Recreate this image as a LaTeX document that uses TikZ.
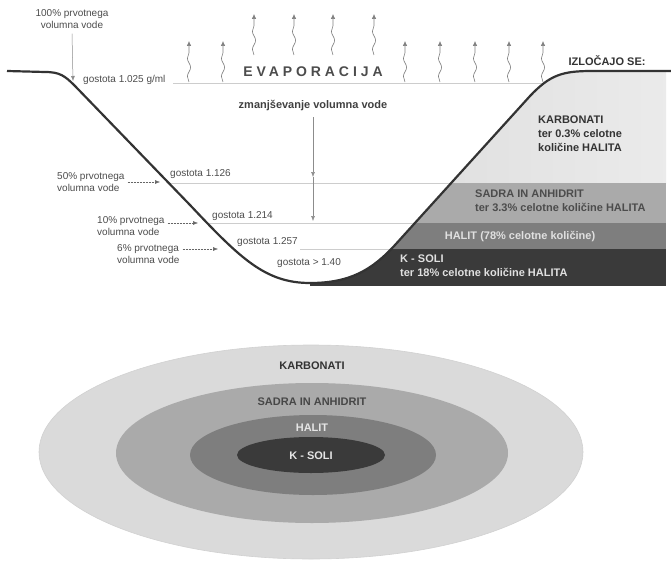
\documentclass[tikz,border=0pt]{standalone}
\usepackage{fontspec}
\setmainfont{Liberation Sans}
\usepackage{tikz}
\usetikzlibrary{arrows.meta, decorations.pathmorphing}

\newfontfamily\razmak[LetterSpace=28]{Liberation Sans}

\definecolor{karbonat}{HTML}{DADADA}
\definecolor{sadra}{HTML}{AAAAAA}
\definecolor{halit}{HTML}{7E7E7E}
\definecolor{ksol}{HTML}{3A3A3A}
\definecolor{vodna}{HTML}{CDCDCD}
\definecolor{dno}{HTML}{333333}

\begin{document}
\begin{tikzpicture}[x=1pt, y=-1pt,
    mala/.style={font=\fontsize{10}{12}\selectfont, text=black!70, inner sep=0pt, align=left},
    krepka/.style={font=\fontsize{11}{14}\selectfont\bfseries, inner sep=0pt, align=left},
    gladina/.style={draw=vodna, line width=0.8pt},
    vodilo/.style={densely dotted, draw=black!60, line width=0.5pt, -{Latex[length=5pt,width=4pt]}},
    puscica/.style={draw=black!45, line width=0.5pt, -{Latex[length=5pt,width=4pt]}},
    para/.style={draw=black!50, line width=0.6pt, decorate,
        decoration={snake, amplitude=1.6pt, segment length=18pt, post length=6pt},
        -{Latex[length=5pt,width=4.5pt]}}]
    % Define the layers
    \pgfdeclarelayer{0}
    \pgfdeclarelayer{1}
    \pgfsetlayers{0,main,1}

    \useasboundingbox ({0}, {0}) rectangle ({671}, {564});

    % Layer 0
    \begin{pgfonlayer}{0}
        % water levels
        \draw[gladina] ({173}, {83}) -- ({560}, {83});
        \draw[gladina] ({168}, {183}) -- ({600}, {183});
        \draw[gladina] ({208}, {223}) -- ({600}, {223});
        \draw[gladina] ({300}, {249}) -- ({600}, {249});

        % deposits on the right slope
        \begin{scope}
            \clip ({310}, {283}) .. controls ({350}, {283}) and ({372}, {270}) .. ({395}, {245})
                -- ({530}, {96}) .. controls ({550}, {75}) and ({562}, {71}) .. ({592}, {71})
                -- ({671}, {71}) -- ({671}, {286}) -- ({310}, {286}) -- cycle;
            \shade[left color=karbonat, right color=karbonat!55] ({300}, {60}) rectangle ({666}, {183});
            \fill[sadra] ({300}, {183}) rectangle ({666}, {223});
            \fill[halit] ({300}, {223}) rectangle ({666}, {249});
            \fill[ksol] ({300}, {249}) rectangle ({666}, {286});
        \end{scope}

        % plan view
        \fill[karbonat, draw=black!18, line width=0.6pt] ({311}, {452}) ellipse [x radius=272pt, y radius=107pt];
        \fill[sadra] ({312}, {453}) ellipse [x radius=196pt, y radius=70pt];
        \fill[halit] ({313}, {455}) ellipse [x radius=123pt, y radius=40pt];
        \fill[ksol] ({311}, {455}) ellipse [x radius=74pt, y radius=18pt];
    \end{pgfonlayer}

    % Layer 1
    \begin{pgfonlayer}{1}
        % basin floor
        \draw[dno, line width=2.2pt, line join=round]
            ({7}, {71}) -- ({45}, {72}) .. controls ({60}, {72}) and ({65}, {76}) .. ({75}, {86})
            -- ({190}, {205}) .. controls ({240}, {258}) and ({265}, {283}) .. ({310}, {283})
            .. controls ({350}, {283}) and ({372}, {270}) .. ({395}, {245})
            -- ({530}, {96}) .. controls ({550}, {75}) and ({562}, {71}) .. ({592}, {71})
            -- ({671}, {71});

        % evaporation
        \foreach \x in {189, 223, 405, 440, 475, 509, 543}
            \draw[para] ({\x}, {82}) -- ({\x}, {41});
        \foreach \x in {254, 294, 333, 374}
            \draw[para] ({\x}, {55}) -- ({\x}, {14});
        \node[font=\fontsize{14}{16}\selectfont\razmak\bfseries, text=black!70, inner sep=0pt] (evap) at ({313}, {72}) {EVAPORACIJA};
        \node[krepka, text=black!80] (izl) at ({607}, {61}) {IZLOČAJO SE:};

        % volume shrinking
        \node[krepka, text=black!75] (zm) at ({313}, {106}) {zmanjševanje volumna vode};
        \coordinate (z1) at ({313}, {177});
        \coordinate (z2) at ({313}, {221});
        \draw[puscica] ([yshift=-6pt]zm.south) -- (z1);
        \draw[puscica] (z1) -- (z2);

        % share of original volume
        \node[mala, align=center] (l100) at ({72}, {19}) {100\% prvotnega\\volumna vode};
        \coordinate (v100) at ({73}, {81});
        \draw[puscica] ([yshift=-5pt]l100.south) -- (v100);
        \node[mala, anchor=west] (l50) at ({57}, {182}) {50\% prvotnega\\volumna vode};
        \coordinate (v50) at ({160}, {182});
        \draw[vodilo] ([xshift=3pt]l50.east |- v50) -- (v50);
        \node[mala, anchor=west] (l10) at ({97}, {226}) {10\% prvotnega\\volumna vode};
        \coordinate (v10) at ({198}, {223});
        \draw[vodilo] ([xshift=3pt]l10.east |- v10) -- (v10);
        \node[mala, anchor=west] (l6) at ({117}, {254}) {6\% prvotnega\\volumna vode};
        \coordinate (v6) at ({218}, {249});
        \draw[vodilo] ([xshift=3pt]l6.east |- v6) -- (v6);

        % densities
        \node[mala, anchor=west] (g1025) at ({83}, {80}) {gostota 1.025 g/ml};
        \node[mala, anchor=west] (g1126) at ({170}, {174}) {gostota 1.126};
        \node[mala, anchor=west] (g1214) at ({212}, {216}) {gostota 1.214};
        \node[mala, anchor=west] (g1257) at ({237}, {242}) {gostota 1.257};
        \node[mala, anchor=west] (g140) at ({277}, {263}) {gostota > 1.40};

        % deposit labels
        \node[krepka, text=black!80, anchor=west] (tk) at ({538}, {134}) {KARBONATI\\ter 0.3\% celotne\\količine HALITA};
        \node[krepka, text=black!70, anchor=west] (ts) at ({475}, {201}) {SADRA IN ANHIDRIT\\ter 3.3\% celotne količine HALITA};
        \node[krepka, text=white!88!black] (th) at ({520}, {237}) {HALIT (78\% celotne količine)};
        \node[krepka, text=white!88!black, anchor=west] (tks) at ({400}, {266}) {K - SOLI\\ter 18\% celotne količine HALITA};

        % plan view labels
        \node[krepka, text=black!80] (ek) at ({312}, {366}) {KARBONATI};
        \node[krepka, text=black!72] (es) at ({312}, {402}) {SADRA IN ANHIDRIT};
        \node[krepka, text=white!90!black] (eh) at ({312}, {428}) {HALIT};
        \node[krepka, text=white!90!black] (eks) at ({311}, {456}) {K - SOLI};
    \end{pgfonlayer}
\end{tikzpicture}
\end{document}
